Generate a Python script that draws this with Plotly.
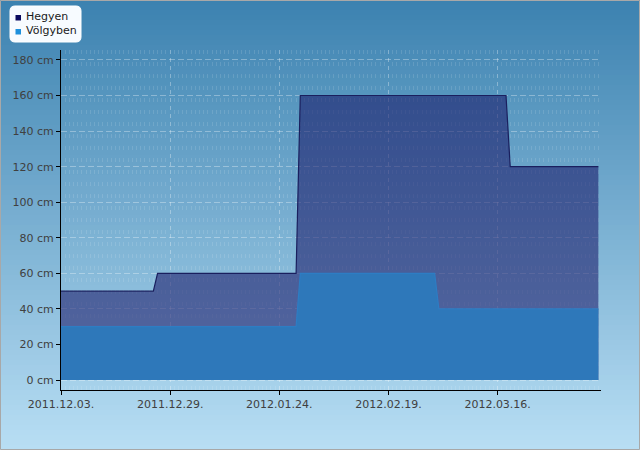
import plotly.graph_objects as go

# ---- data ----
hegyen_dates = ["2011-12-03", "2011-12-25", "2011-12-26", "2012-01-28", "2012-01-29",
                "2012-03-18", "2012-03-19", "2012-04-09"]
hegyen_cm = [50, 50, 60, 60, 160, 160, 120, 120]

volgyben_dates = ["2011-12-03", "2012-01-28", "2012-01-29", "2012-03-01", "2012-03-02",
                  "2012-04-09"]
volgyben_cm = [30, 30, 60, 60, 40, 40]

series_names = ["Hegyen", "Völgyben"]
y_ticks = [0, 20, 40, 60, 80, 100, 120, 140, 160, 180]
y_tick_labels = ["0 cm", "20 cm", "40 cm", "60 cm", "80 cm", "100 cm", "120 cm",
                 "140 cm", "160 cm", "180 cm"]

W, H = 640, 450
L, R, T, B = 61, 39, 50, 60
PW, PH = W - L - R, H - T - B


def px(x):
    return (x - L) / PW


def py(y):
    return (H - B - y) / PH


fig = go.Figure()
fig.add_trace(go.Scatter(
    x=hegyen_dates, y=hegyen_cm, name=series_names[0], mode="lines",
    fill="tozeroy", fillcolor="rgba(22,18,100,0.55)",
    line=dict(color="#1a1f5e", width=1.2), showlegend=False,
))
fig.add_trace(go.Scatter(
    x=volgyben_dates, y=volgyben_cm, name=series_names[1], mode="lines",
    fill="tozeroy", fillcolor="rgba(46,120,186,1)",
    line=dict(color="#2d7dc4", width=1.2), showlegend=False,
))

shapes = []
# background gradient
n = 90
top = (60, 130, 176)
bot = (184, 222, 244)
for i in range(n):
    t = i / (n - 1)
    c = tuple(int(round(top[k] + (bot[k] - top[k]) * t)) for k in range(3))
    y0 = i * H / n
    y1 = (i + 1) * H / n + 0.6
    shapes.append(dict(type="rect", xref="paper", yref="paper", layer="below",
                       x0=px(0), x1=px(W), y0=py(y1), y1=py(y0),
                       line=dict(width=0), fillcolor="rgb(%d,%d,%d)" % c))
# outer border
shapes.append(dict(type="rect", xref="paper", yref="paper", layer="above",
                   x0=px(0.5), x1=px(W - 0.5), y0=py(H - 0.5), y1=py(0.5),
                   line=dict(color="#a8a8a8", width=1), fillcolor="rgba(0,0,0,0)"))
# legend box (rounded)
bx0, bx1, by0, by1, r = 10, 81, 6, 42, 5
path = (f"M {px(bx0 + r)},{py(by0)} L {px(bx1 - r)},{py(by0)} "
        f"Q {px(bx1)},{py(by0)} {px(bx1)},{py(by0 + r)} "
        f"L {px(bx1)},{py(by1 - r)} Q {px(bx1)},{py(by1)} {px(bx1 - r)},{py(by1)} "
        f"L {px(bx0 + r)},{py(by1)} Q {px(bx0)},{py(by1)} {px(bx0)},{py(by1 - r)} "
        f"L {px(bx0)},{py(by0 + r)} Q {px(bx0)},{py(by0)} {px(bx0 + r)},{py(by0)} Z")
shapes.append(dict(type="path", xref="paper", yref="paper", layer="above", path=path,
                   fillcolor="#f7fbff", line=dict(color="#ffffff", width=1)))
legend_colors = ["#0a0a5e", "#1e90dc"]
legend_y = [17.5, 31.5]
annotations = []
for name, col, ly in zip(series_names, legend_colors, legend_y):
    shapes.append(dict(type="rect", xref="paper", yref="paper", layer="above",
                       x0=px(15.5), x1=px(21), y0=py(ly + 3), y1=py(ly - 2.5),
                       fillcolor=col, line=dict(width=0)))
    annotations.append(dict(xref="paper", yref="paper", x=px(24), y=py(ly - 1),
                            xanchor="left", yanchor="middle", showarrow=False,
                            text=name, font=dict(family="DejaVu Sans", size=11,
                                                 color="#1a1a1a")))

fig.update_layout(
    width=W, height=H,
    margin=dict(l=L, r=R, t=T, b=B),
    paper_bgcolor="rgba(0,0,0,0)",
    plot_bgcolor="rgba(0,0,0,0)",
    font=dict(family="DejaVu Sans", size=11, color="#404040"),
    shapes=shapes,
    annotations=annotations,
    showlegend=False,
    xaxis=dict(
        type="date",
        range=["2011-12-03", "2012-04-09 15:00"],
        tick0="2011-12-03", dtick=26 * 86400000,
        tickformat="%Y.%m.%d.",
        ticks="outside", ticklen=4, tickcolor="#000000",
        showline=True, linecolor="#000000", linewidth=1,
        showgrid=True, gridcolor="rgba(255,255,255,0.32)", griddash="4px,4px",
        gridwidth=1,
        minor=dict(dtick=86400000, showgrid=True,
                   gridcolor="rgba(255,255,255,0.12)", griddash="4px,8px",
                   ticks="", ticklen=2),
        layer="above traces",
        fixedrange=True,
    ),
    yaxis=dict(
        range=[-5.6, 185.6],
        tickmode="array",
        tickvals=y_ticks,
        ticktext=y_tick_labels,
        ticks="outside", ticklen=4, tickcolor="#000000",
        showline=True, linecolor="#000000", linewidth=1,
        showgrid=True, gridcolor="rgba(255,255,255,0.32)", griddash="6px,3px",
        zeroline=False,
        layer="above traces",
        fixedrange=True,
    ),
)

fig.write_html("out.html", config={"displayModeBar": False})
